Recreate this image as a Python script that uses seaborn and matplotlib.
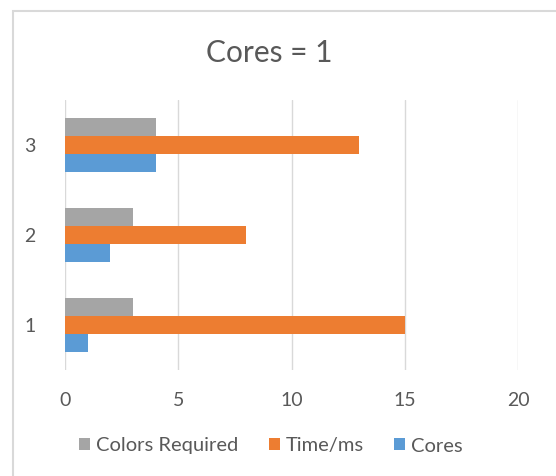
import matplotlib
matplotlib.use("Agg")
import matplotlib.pyplot as plt
import seaborn as sns
import pandas as pd
from matplotlib.patches import Rectangle

# Run data
categories = ["1", "2", "3"]
cores = [1, 2, 4]
time_ms = [15, 8, 13]
colors_required = [3, 3, 4]

series_names = ["Colors Required", "Time/ms", "Cores"]
series_colors = {"Colors Required": "#A5A5A5", "Time/ms": "#ED7D31", "Cores": "#5B9BD5"}

df = pd.DataFrame({
    "cat": categories * 3,
    "series": ["Cores"] * 3 + ["Time/ms"] * 3 + ["Colors Required"] * 3,
    "value": cores + time_ms + colors_required,
})

sns.set_theme(style="white")
plt.rcParams["font.family"] = ["Lato", "DejaVu Sans"]
text_color = "#595959"

fig = plt.figure(figsize=(5.56, 4.76), dpi=100)
ax = fig.add_axes([65 / 556, 1 - 370 / 476, (518 - 65) / 556, 270 / 476])

sns.barplot(data=df, x="value", y="cat", hue="series", orient="h",
            order=categories[::-1], hue_order=series_names,
            palette=series_colors, width=0.61, saturation=1, ax=ax, legend=True,
            linewidth=0, edgecolor="none")

ax.set_xlim(0, 20)
ax.set_xticks([0, 5, 10, 15, 20])
ax.xaxis.grid(True, color="#D9D9D9", linewidth=1)
ax.set_axisbelow(True)
for s in ax.spines.values():
    s.set_visible(False)
ax.set_xlabel("")
ax.set_ylabel("")
ax.tick_params(axis="both", length=0, labelsize=14, labelcolor=text_color)
ax.tick_params(axis="x", pad=16)
ax.tick_params(axis="y", pad=21)

handles, labels = ax.get_legend_handles_labels()
ax.get_legend().remove()
fig.legend(handles, labels, loc="center", bbox_to_anchor=(271 / 556, 1 - 446 / 476),
           ncol=3, frameon=False, fontsize=14.5, labelcolor=text_color,
           handlelength=0.55, handleheight=0.55, handletextpad=0.3, columnspacing=1.5)

fig.text(269 / 556, 1 - 53 / 476, "Cores = 1", ha="center", va="center",
         fontsize=21.5, color=text_color)

# Chart frame
fig.patches.append(Rectangle((13 / 556, -0.1), 1.2, 1 - 11 / 476 + 0.1,
                             transform=fig.transFigure, fill=False,
                             edgecolor="#D9D9D9", linewidth=1.5))

fig.savefig("out.png", dpi=100)
